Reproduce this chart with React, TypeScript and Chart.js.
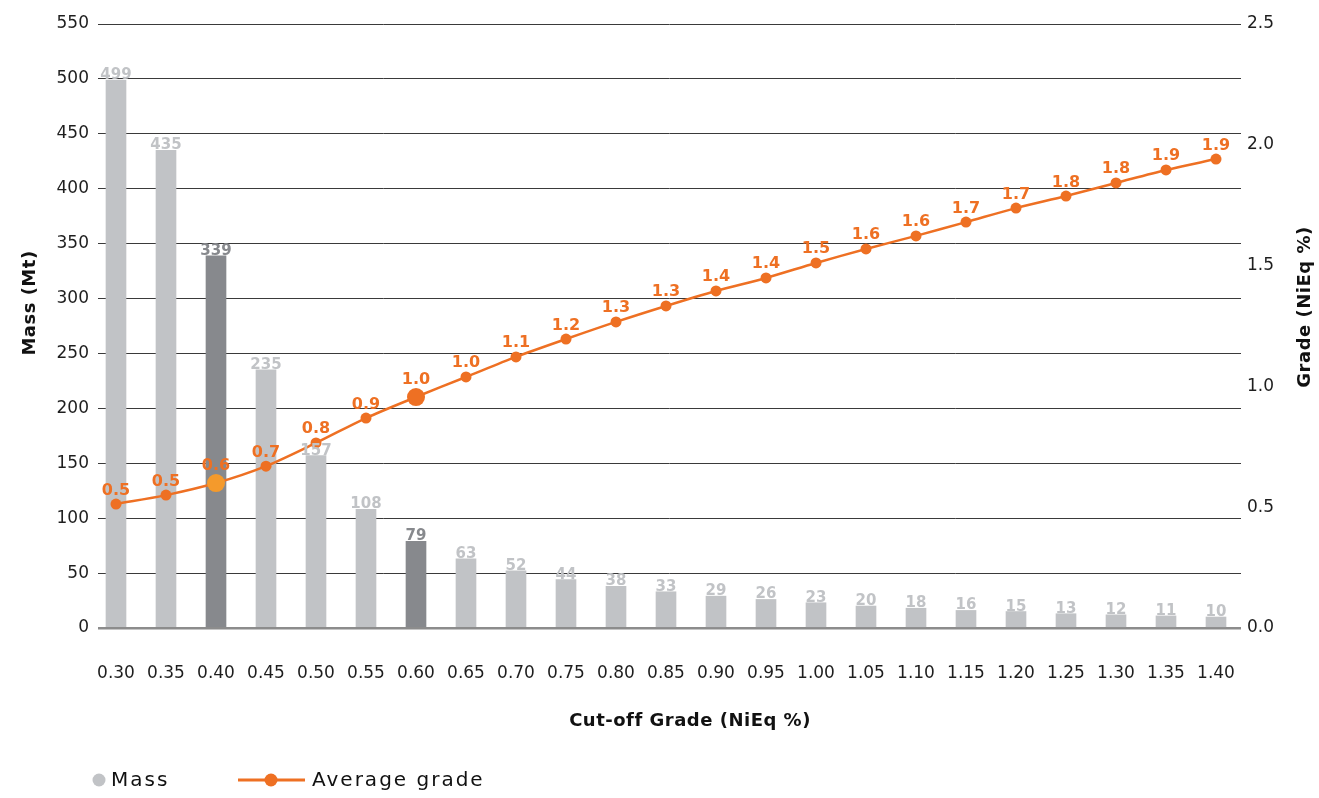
import React, { useEffect, useRef } from "react";
import { Chart, registerables } from "chart.js";

Chart.register(...registerables);

const categories = ["0.30", "0.35", "0.40", "0.45", "0.50", "0.55", "0.60", "0.65", "0.70", "0.75", "0.80", "0.85", "0.90", "0.95", "1.00", "1.05", "1.10", "1.15", "1.20", "1.25", "1.30", "1.35", "1.40"];
const massValues = [499, 435, 339, 235, 157, 108, 79, 63, 52, 44, 38, 33, 29, 26, 23, 20, 18, 16, 15, 13, 12, 11, 10];
const gradeValues = [0.513, 0.55, 0.6, 0.67, 0.766, 0.869, 0.956, 1.039, 1.122, 1.196, 1.267, 1.333, 1.395, 1.449, 1.511, 1.569, 1.623, 1.68, 1.738, 1.788, 1.842, 1.896, 1.941];
const gradeLabels = ["0.5", "0.5", "0.6", "0.7", "0.8", "0.9", "1.0", "1.0", "1.1", "1.2", "1.3", "1.3", "1.4", "1.4", "1.5", "1.6", "1.6", "1.7", "1.7", "1.8", "1.8", "1.9", "1.9"];
const highlightedCategories = ["0.40", "0.60"];
const massAxisMax = 550;
const massAxisStep = 50;
const gradeAxisMax = 2.5;
const gradeAxisStep = 0.5;

const FONT = "'DejaVu Sans', sans-serif";
const LIGHT_BAR = "#C1C3C6";
const DARK_BAR = "#87898D";
const ORANGE = "#EE7023";
const LIGHT_ORANGE = "#F49A2C";
const TEXT = "#1e1e1e";

export default function App() {
  const canvasRef = useRef<HTMLCanvasElement | null>(null);

  useEffect(() => {
    document.body.style.margin = "0";
    const canvas = canvasRef.current;
    if (!canvas) return;

    const labelsPlugin = {
      id: "customLabels",
      afterDatasetsDraw(chart: any) {
        const ctx = chart.ctx;
        ctx.save();
        ctx.textAlign = "center";
        ctx.textBaseline = "alphabetic";
        const barMeta = chart.getDatasetMeta(0);
        ctx.font = `bold 15px ${FONT}`;
        barMeta.data.forEach((el: any, i: number) => {
          const hl = highlightedCategories.includes(categories[i]);
          ctx.fillStyle = hl ? DARK_BAR : LIGHT_BAR;
          ctx.fillText(String(massValues[i]), el.x, el.y - 1);
        });
        const lineMeta = chart.getDatasetMeta(1);
        ctx.font = `bold 16px ${FONT}`;
        ctx.fillStyle = ORANGE;
        lineMeta.data.forEach((el: any, i: number) => {
          const r = highlightedCategories.includes(categories[i]) ? 9 : 5.5;
          ctx.fillText(gradeLabels[i], el.x, el.y - r - 4);
        });
        ctx.restore();
      },
      afterDraw(chart: any) {
        const ctx = chart.ctx;
        ctx.save();
        ctx.fillStyle = "#111";
        ctx.font = `bold 18px ${FONT}`;
        (ctx as any).letterSpacing = "0.5px";
        ctx.textAlign = "center";
        ctx.textBaseline = "middle";
        ctx.save();
        ctx.translate(30, 303);
        ctx.rotate(-Math.PI / 2);
        ctx.fillText("Mass (Mt)", 0, 0);
        ctx.restore();
        ctx.save();
        ctx.translate(1305, 307);
        ctx.rotate(-Math.PI / 2);
        ctx.fillText("Grade (NiEq %)", 0, 0);
        ctx.restore();
        ctx.fillText("Cut-off Grade (NiEq %)", 690, 721);

        // legend
        const ly = 780;
        ctx.fillStyle = LIGHT_BAR;
        ctx.beginPath();
        ctx.arc(99, ly, 6.5, 0, Math.PI * 2);
        ctx.fill();
        ctx.fillStyle = "#111";
        ctx.textAlign = "left";
        ctx.font = `20px ${FONT}`;
        (ctx as any).letterSpacing = "2px";
        ctx.fillText("Mass", 111, ly + 1);
        ctx.strokeStyle = ORANGE;
        ctx.lineWidth = 3;
        ctx.beginPath();
        ctx.moveTo(238, ly);
        ctx.lineTo(305, ly);
        ctx.stroke();
        ctx.fillStyle = ORANGE;
        ctx.beginPath();
        ctx.arc(271, ly, 6.5, 0, Math.PI * 2);
        ctx.fill();
        ctx.fillStyle = "#111";
        ctx.fillText("Average grade", 312, ly + 1);
        ctx.restore();
      },
    };

    const chart = new Chart(canvas, {
      type: "bar",
      data: {
        labels: categories,
        datasets: [
          {
            type: "bar",
            label: "Mass",
            data: massValues,
            backgroundColor: categories.map((c) => (highlightedCategories.includes(c) ? DARK_BAR : LIGHT_BAR)),
            barThickness: 20,
            yAxisID: "y",
            order: 2,
          },
          {
            type: "line",
            label: "Average grade",
            data: gradeValues,
            borderColor: ORANGE,
            borderWidth: 2.5,
            tension: 0.3,
            pointRadius: categories.map((c) => (highlightedCategories.includes(c) ? 9 : 5.5)),
            pointBackgroundColor: categories.map((c) => (c === "0.40" ? LIGHT_ORANGE : ORANGE)),
            pointBorderWidth: 0,
            yAxisID: "y1",
            order: 1,
          },
        ] as any,
      },
      options: {
        animation: false,
        responsive: true,
        maintainAspectRatio: false,
        layout: { padding: { top: 24, left: 0, right: 0, bottom: 0 } },
        plugins: { legend: { display: false }, tooltip: { enabled: false } },
        scales: {
          x: {
            grid: { display: false, drawTicks: false },
            border: { display: false },
            ticks: { font: { family: FONT, size: 17 }, color: TEXT, padding: 35, maxRotation: 0, autoSkip: false },
            afterBuildTicks: (s: any) => {
              s._startValue = -0.36;
              s._valueRange = 22.86;
            },
            afterFit: (s: any) => { s.height = 170; },
          },
          y: {
            position: "left",
            min: 0,
            max: massAxisMax,
            ticks: { stepSize: massAxisStep, font: { family: FONT, size: 17 }, color: TEXT, padding: 9 },
            grid: {
              drawTicks: false,
              color: (c: any) => (c.tick && c.tick.value === 0 ? "#8C8C8C" : "#3a3a3a"),
              lineWidth: (c: any) => (c.tick && c.tick.value === 0 ? 2.5 : 1),
            },
            border: { display: false },
            afterFit: (s: any) => { s.width = 98; },
          },
          y1: {
            position: "right",
            min: 0,
            max: gradeAxisMax,
            ticks: {
              stepSize: gradeAxisStep,
              font: { family: FONT, size: 17 },
              color: TEXT,
              padding: 6,
              callback: (v: any) => Number(v).toFixed(1),
            },
            grid: { display: false, drawTicks: false },
            border: { display: false },
            afterFit: (s: any) => { s.width = 78; },
          },
        },
      } as any,
      plugins: [labelsPlugin],
    });

    return () => chart.destroy();
  }, []);

  return (
    <div style={{ position: "relative", width: 1319, height: 798, background: "#fff" }}>
      <canvas ref={canvasRef} />
    </div>
  );
}
